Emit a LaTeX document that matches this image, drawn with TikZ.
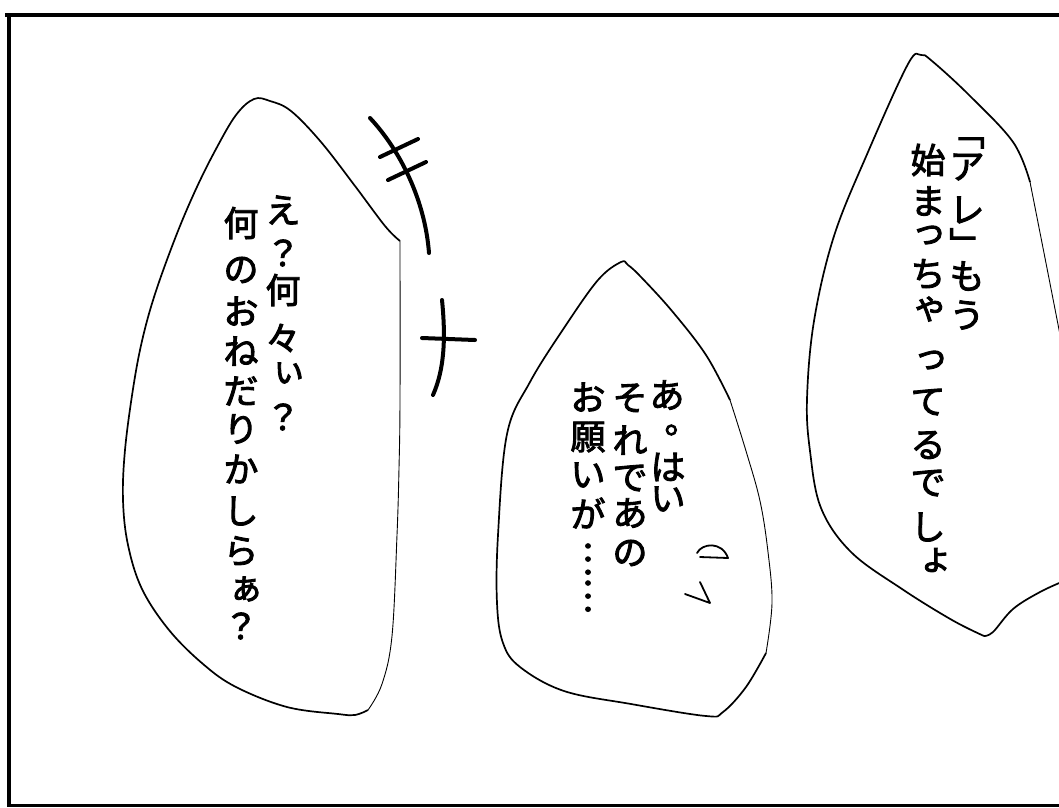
\documentclass[tikz,border=0pt]{standalone}
\usepackage{fontspec}
\newfontfamily\jp[FakeBold=2.5]{Noto Sans CJK JP}
\tikzstyle{jp} = [font=\jp\fontsize{35}{35}\selectfont, inner sep=0pt]
\tikzstyle{frame} = [line width=4pt]
\tikzstyle{bubble} = [line width=1.7pt, line join=round]
\tikzstyle{thin} = [line width=.9pt]
\tikzstyle{brush} = [line width=4pt, line cap=round]
\tikzstyle{sweat} = [line width=1.8pt, line cap=round, line join=round]

\begin{document}
\begin{tikzpicture}[x=1pt, y=-1pt]
    \useasboundingbox (0,0) rectangle (1059,807);
    \clip (0,0) rectangle (1059,807);

    % panel border
    \draw[frame] (5,15) -- (1059,15);
    \draw[frame] (9,15) -- (9,807);
    \draw[frame, line width=3pt] (9,805) -- (1059,805);

    % left bubble
    \draw[bubble] plot[smooth, tension=.6] coordinates {(400,241) (385,226) (355,186) (321,142) (291,111) (270,101) (254,99) (236,115) (216,149) (196,189) (176,236) (155,294) (142,341) (133,389) (125,450) (123,500) (128,545) (142,589) (169,630) (203,664) (236,687) (287,707) (338,714) (355,715) (368,710)};
    \draw[thin] plot[smooth, tension=.6] coordinates {(368,710) (382,684) (392,636) (397,535) (399,468) (400,400) (400,241)};

    % middle bubble
    \draw[bubble] plot[smooth, tension=.6] coordinates {(730,400) (706,355) (672,311) (641,277) (628,265) (621,262) (598,280) (564,328) (530,382) (507,434) (498,535) (497,603) (503,643) (520,667) (564,691) (631,704) (706,716) (723,712) (746,687) (766,653)};
    \draw[thin] plot[smooth, tension=.6] coordinates {(766,653) (772,603) (768,552) (760,501) (746,451) (730,400)};

    % right bubble
    \draw[thin] plot[smooth, tension=.6] coordinates {(1062,345) (1054,304) (1044,253) (1030,182)};
    \draw[bubble] plot[smooth, tension=.6] coordinates {(1030,182) (1013,142) (969,95) (932,61) (921,55) (908,64) (868,152) (834,236) (814,321) (807,399) (810,451) (821,508) (851,552) (902,589) (952,620) (984,636)};
    \draw[bubble] plot[smooth, tension=.6] coordinates {(984,636) (993,632) (1013,609) (1040,592) (1064,581)};

    % left bubble text
    \foreach \n/\c/\x/\y in {1/え/283/210, 2/？/283/253, 3/何/283/290, 4/々/283/338, 5/ぃ/289/373, 6/？/283/417}
    \node[jp] (a\n) at (\x,\y) {\c};
    \foreach \n/\c/\x/\y in {1/何/241/223, 2/の/241/270, 3/お/241/311, 4/ね/241/351, 5/だ/241/391, 6/り/241/429, 7/か/241/469, 8/し/241/511, 9/ら/241/551, 10/ぁ/246/589, 11/？/241/626}
    \node[jp] (b\n) at (\x,\y) {\c};

    % middle bubble text
    \foreach \n/\c/\x/\y in {1/あ/667/395, 2/。/682/430, 3/は/668/467, 4/い/668/499}
    \node[jp] (c\n) at (\x,\y) {\c};
    \foreach \n/\c/\x/\y in {1/そ/630/398, 2/れ/630/440, 3/で/630/478, 4/あ/630/513, 5/の/630/553}
    \node[jp] (d\n) at (\x,\y) {\c};
    \foreach \n/\c/\x/\y in {1/お/588/397, 2/願/588/437, 3/い/588/475, 4/が/588/513}
    \node[jp] (e\n) at (\x,\y) {\c};
    \node[jp, rotate=-90] (e5) at (588,577) {……};

    % right bubble text
    \foreach \n/\c/\x/\y in {1/﹁/967/143, 2/ア/967/167, 3/レ/967/210, 4/﹂/967/243, 5/も/967/276, 6/う/967/315}
    \node[jp] (f\n) at (\x,\y) {\c};
    \foreach \n/\c/\x/\y in {1/始/928/160, 2/ま/928/201, 3/っ/929/235, 4/ち/928/274, 5/ゃ/930/309, 6/っ/931/360, 7/て/928/402, 8/る/928/445, 9/で/928/483, 10/し/928/527, 11/ょ/936/560}
    \node[jp] (g\n) at (\x,\y) {\c};

    % hand drawn sound effect
    \draw[brush] (370,118) .. controls (400,150) and (425,200) .. (429,253);
    \draw[brush] (380,157) -- (418,139);
    \draw[brush] (388,180) -- (426,162);
    \draw[brush] (422,338) -- (475,340);
    \draw[brush] (442,300) .. controls (446,340) and (444,370) .. (433,395);

    % little marks
    \draw[sweat] (697,553) .. controls (702,543) and (722,541) .. (728,558) -- (700,557);
    \draw[sweat] (700,582) -- (710,603) -- (685,594);
\end{tikzpicture}
\end{document}
